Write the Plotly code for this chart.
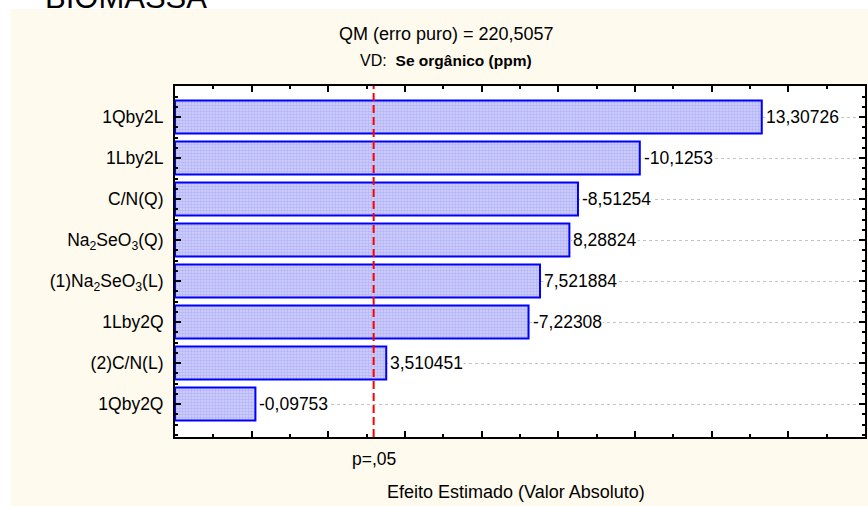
import plotly.graph_objects as go

# Pareto chart of standardized effects
TERMS = [
    "1Qby2L",
    "1Lby2L",
    "C/N(Q)",
    "Na<sub>2</sub>SeO<sub>3</sub>(Q)",
    "(1)Na<sub>2</sub>SeO<sub>3</sub>(L)",
    "1Lby2Q",
    "(2)C/N(L)",
    "1Qby2Q",
]
EFFECTS = [13.30726, -10.1253, -8.51254, 8.28824, 7.521884, -7.22308, 3.510451, -0.09753]
EFFECT_LABELS = ["13,30726", "-10,1253", "-8,51254", "8,28824",
                 "7,521884", "-7,22308", "3,510451", "-0,09753"]
P_CRIT = 3.182          # t critical value, p = .05
X_RANGE = [-2, 16]

FONT = "Arial, 'Liberation Sans', sans-serif"
CREAM = "#fefaee"

abs_eff = [abs(v) for v in EFFECTS]
ypos = list(range(len(TERMS)))

fig = go.Figure()
fig.add_trace(go.Bar(
    y=ypos,
    x=[a - X_RANGE[0] for a in abs_eff],
    base=X_RANGE[0],
    orientation="h",
    width=0.8,
    marker=dict(
        color="#cccbfc",
        line=dict(color="#0000ff", width=2),
        pattern=dict(shape=".", size=3, solidity=0.5,
                     fgcolor="#9494f0", bgcolor="#d2d2fd"),
    ),
    hovertemplate="%{y}: %{customdata}<extra></extra>",
    customdata=EFFECT_LABELS,
    showlegend=False,
))

# value labels (white box hides the dotted grid under the text)
for y, a, lab in zip(ypos, abs_eff, EFFECT_LABELS):
    fig.add_annotation(x=a, y=y, text=lab, showarrow=False,
                       xanchor="left", yanchor="middle", xshift=3,
                       bgcolor="white", borderpad=0,
                       font=dict(family=FONT, size=17.5, color="black"))

# p = .05 reference line
fig.add_shape(type="line", x0=P_CRIT, x1=P_CRIT, xref="x",
              y0=0, y1=1, yref="paper",
              line=dict(color="#ff0000", width=2, dash="8px,4px"))

fig.add_annotation(x=P_CRIT, y=-0.063, xref="x", yref="paper",
                   xanchor="center", yanchor="middle",
                   text="p=,05", showarrow=False,
                   font=dict(family=FONT, size=17.5, color="black"))
fig.add_annotation(x=0.494, y=-0.157, xref="paper", yref="paper",
                   xanchor="center", yanchor="middle",
                   text="Efeito Estimado (Valor Absoluto)", showarrow=False,
                   font=dict(family=FONT, size=18, color="black"))
fig.add_annotation(x=0.393, y=1.148, xref="paper", yref="paper",
                   xanchor="center", yanchor="middle",
                   text="QM (erro puro) = 220,5057", showarrow=False,
                   font=dict(family=FONT, size=18, color="black"))
fig.add_annotation(x=0.393, y=1.074, xref="paper", yref="paper",
                   xanchor="center", yanchor="middle",
                   text="VD:  <b><span style='font-size:15.5px'>Se orgânico (ppm)</span></b>",
                   showarrow=False,
                   font=dict(family=FONT, size=16, color="black"))
fig.add_annotation(x=-0.191, y=1.1965, xref="paper", yref="paper",
                   xanchor="left", yanchor="bottom",
                   text="BIOMASSA", showarrow=False,
                   font=dict(family=FONT, size=31, color="black"))

# white margins round the cream panel
fig.add_shape(type="rect", xref="paper", yref="paper",
              x0=-0.26, x1=-0.2384, y0=-0.25, y1=1.3,
              fillcolor="white", line_width=0, layer="below")
fig.add_shape(type="rect", xref="paper", yref="paper",
              x0=-0.26, x1=1.01, y0=1.2194, y1=1.3,
              fillcolor="white", line_width=0, layer="below")

fig.update_xaxes(
    range=X_RANGE,
    showgrid=False, zeroline=False, showticklabels=False,
    ticks="inside", tick0=0, dtick=2, ticklen=6, tickwidth=2, tickcolor="black",
    minor=dict(ticks="inside", tick0=0, dtick=1, ticklen=3, tickwidth=2, tickcolor="black"),
    showline=True, linecolor="black", linewidth=2, mirror="ticks",
)
fig.update_yaxes(
    range=[7.805, -0.756],
    tickmode="array", tickvals=ypos, ticktext=TERMS,
    ticks="inside", ticklen=6, tickwidth=2, tickcolor="black",
    minor=dict(ticks="inside", tick0=0, dtick=0.25, ticklen=3, tickwidth=2, tickcolor="black"),
    showgrid=True, gridcolor="#c4c4c4", griddash="dot", gridwidth=1,
    zeroline=False,
    showline=True, linecolor="black", linewidth=2, mirror="ticks",
    ticklabelstandoff=6,
    tickfont=dict(family=FONT, size=17.5, color="black"),
)

fig.update_layout(
    width=868, height=506,
    margin=dict(l=175, r=1, t=86, b=69),
    paper_bgcolor=CREAM,
    plot_bgcolor="white",
    font=dict(family=FONT, color="black"),
    bargap=0.2,
)

# drop the default page margin so the 868x506 figure fills the window exactly
fig.write_html("out.html",
               config={"displayModeBar": False},
               post_script="document.body.style.margin='0';"
                           "document.body.style.overflow='hidden';")
